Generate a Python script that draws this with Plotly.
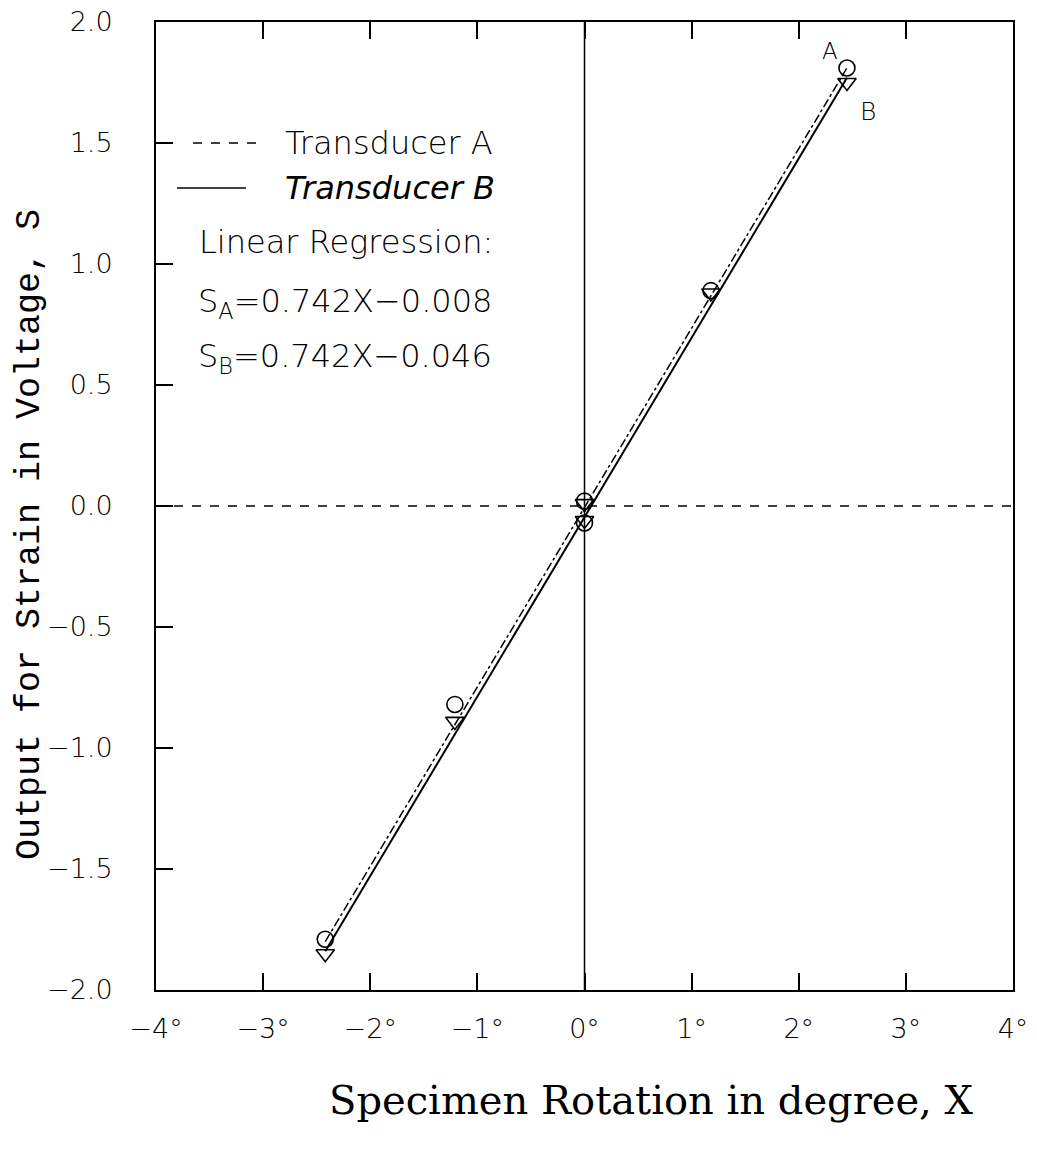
import plotly.graph_objects as go

# ---- data ----
rot_A = [-2.42, -1.21, 0.0, 0.0, 1.18, 2.45]
out_A = [-1.79, -0.82, -0.07, 0.02, 0.89, 1.81]
rot_B = [-2.42, -1.21, 0.0, 0.0, 1.18, 2.45]
out_B = [-1.85, -0.89, -0.06, 0.01, 0.88, 1.75]

fit_x = [-2.42, 2.45]
fit_A = [-1.80, 1.81]
fit_B = [-1.84, 1.77]

x_ticks = [-4, -3, -2, -1, 0, 1, 2, 3, 4]
x_tick_text = ["−4°", "−3°", "−2°", "−1°", "0°", "1°", "2°", "3°", "4°"]
y_ticks = [-2.0, -1.5, -1.0, -0.5, 0.0, 0.5, 1.0, 1.5, 2.0]
y_tick_text = ["−2.0", "−1.5", "−1.0", "−0.5", "0.0", "0.5", "1.0", "1.5", "2.0"]

legend_lines = ["Transducer A", "<i>Transducer B</i>", "Linear Regression:",
                "S<sub>A</sub>=0.742X−0.008", "S<sub>B</sub>=0.742X−0.046"]

SANS = "DejaVu Sans, Liberation Sans, sans-serif"
TICKFONT = dict(family=SANS, size=27, color="black", weight=200)

fig = go.Figure()

fig.add_trace(go.Scatter(x=fit_x, y=fit_A, mode="lines",
                         line=dict(color="black", width=1.5, dash="dashdot"),
                         showlegend=False, hoverinfo="skip"))
fig.add_trace(go.Scatter(x=fit_x, y=fit_B, mode="lines",
                         line=dict(color="black", width=2),
                         showlegend=False, hoverinfo="skip"))
fig.add_trace(go.Scatter(x=rot_A, y=out_A, mode="markers",
                         marker=dict(symbol="circle-open", size=16, color="black",
                                     line=dict(color="black", width=1.6)),
                         showlegend=False))
fig.add_trace(go.Scatter(x=rot_B, y=out_B, mode="markers",
                         marker=dict(symbol="triangle-down-open", size=16, color="black",
                                     line=dict(color="black", width=1.6)),
                         showlegend=False))

# zero reference lines
fig.add_shape(type="line", xref="x", yref="y", x0=-4, x1=4, y0=0, y1=0,
              line=dict(color="black", width=1.3, dash="dash"))
fig.add_shape(type="line", xref="x", yref="y", x0=0, x1=0, y0=-2, y1=2,
              line=dict(color="black", width=1.5))

# legend block (paper coordinates of the plot area)
W, H = 1037, 1156
L, R, T, B = 156, 24, 22, 166
pw, ph = W - L - R, H - T - B

def px(x):
    return (x - L) / pw

def py(y):
    return 1 - (y - T) / ph

fig.add_shape(type="line", xref="paper", yref="paper",
              x0=px(193), x1=px(256), y0=py(143), y1=py(143),
              line=dict(color="black", width=1.3, dash="dash"))
fig.add_shape(type="line", xref="paper", yref="paper",
              x0=px(177), x1=px(246), y0=py(188), y1=py(188),
              line=dict(color="black", width=1.5))

legend_pos = [(283, 143), (283, 188), (197, 242), (196, 303), (196, 358)]
for txt, (lx, ly) in zip(legend_lines, legend_pos):
    fig.add_annotation(xref="paper", yref="paper", x=px(lx), y=py(ly),
                       text=txt, showarrow=False, xanchor="left", yanchor="middle",
                       font=dict(family=SANS, size=32, color="black", weight=200))

# series labels
fig.add_annotation(x=2.29, y=1.88, text="A", showarrow=False,
                   font=dict(family=SANS, size=23, color="black", weight=200))
fig.add_annotation(x=2.65, y=1.63, text="B", showarrow=False,
                   font=dict(family=SANS, size=25, color="black", weight=200))

# axis titles
fig.add_annotation(xref="paper", yref="paper", x=px(651), y=py(1100),
                   text="Specimen Rotation in degree, X", showarrow=False,
                   xanchor="center", yanchor="middle",
                   font=dict(family="DejaVu Serif, Liberation Serif, serif", size=40, color="black",
                             weight=200))
fig.add_annotation(xref="paper", yref="paper", x=px(30), y=py(535),
                   text="Output for Strain in Voltage, S", showarrow=False,
                   textangle=-90, xanchor="center", yanchor="middle",
                   font=dict(family="Liberation Mono, DejaVu Sans Mono, monospace", size=35,
                             color="black"))

fig.update_xaxes(range=[-4, 4], tickvals=x_ticks, ticktext=x_tick_text,
                 ticks="inside", ticklen=17, tickwidth=1.5, tickcolor="black",
                 showline=True, linecolor="black", linewidth=2, mirror="ticks",
                 showgrid=False, zeroline=False, tickfont=TICKFONT,
                 ticklabelstandoff=14, automargin=False)
fig.update_yaxes(range=[-2, 2], tickvals=y_ticks, ticktext=y_tick_text,
                 ticks="inside", ticklen=17, tickwidth=1.5, tickcolor="black",
                 showline=True, linecolor="black", linewidth=2, mirror=True,
                 showgrid=False, zeroline=False, tickfont=TICKFONT,
                 ticklabelstandoff=36, automargin=False)

fig.update_layout(width=W, height=H, margin=dict(l=L, r=R, t=T, b=B, autoexpand=False),
                  paper_bgcolor="white", plot_bgcolor="white", showlegend=False)

fig.write_html("out.html")
